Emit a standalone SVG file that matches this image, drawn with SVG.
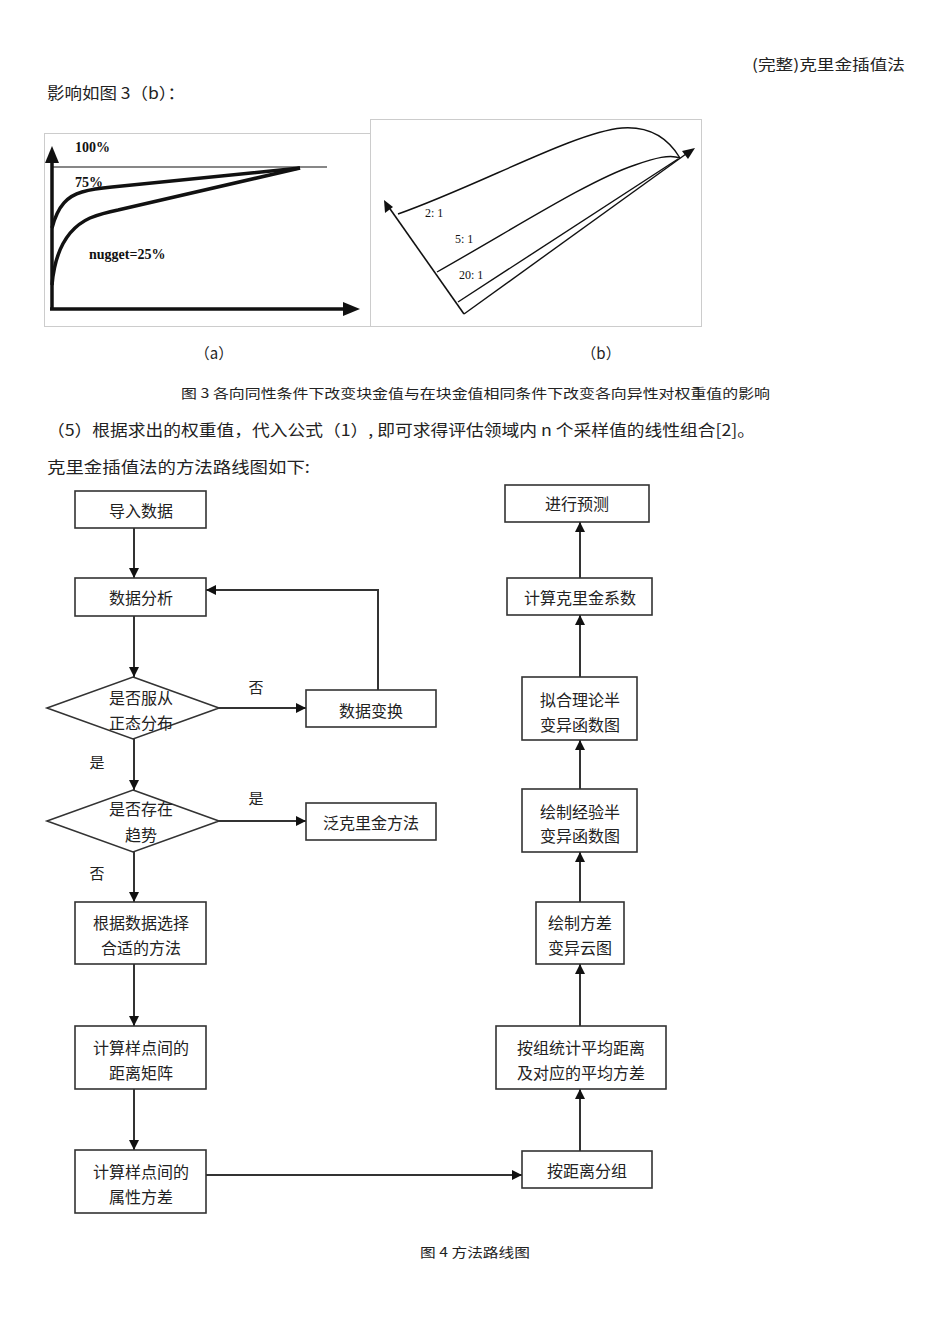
<svg xmlns="http://www.w3.org/2000/svg" width="950" height="1344" viewBox="0 0 950 1344">
<style>
  .t { font-family: "Noto Sans CJK SC", "Liberation Sans", sans-serif; fill: #222; }
  .box { fill: #fff; stroke: #333; stroke-width: 1.6; }
  .bt { font-family: "Noto Sans CJK SC", "Liberation Sans", sans-serif; font-size: 16px; fill: #222; text-anchor: middle; dominant-baseline: central; }
  .edge { fill: none; stroke: #333; stroke-width: 2; }
  .lab { font-family: "Noto Sans CJK SC", sans-serif; font-size: 15px; fill: #222; text-anchor: middle; dominant-baseline: central; }
  .fig { fill: none; stroke: #111; }
  .ser { font-family: "Liberation Serif", serif; fill: #111; }
</style>
<defs>
  <marker id="arr" viewBox="0 0 10 10" refX="10" refY="5" markerWidth="10" markerHeight="10" markerUnits="userSpaceOnUse" orient="auto">
    <path d="M0,0 L10,5 L0,10 z" fill="#111"/>
  </marker>
</defs>
<rect width="950" height="1344" fill="#fff"/>

<!-- page texts -->
<text class="t" x="905" y="70" font-size="15" text-anchor="end" textLength="153" lengthAdjust="spacingAndGlyphs">(完整)克里金插值法</text>
<text class="t" x="47" y="99" font-size="16" textLength="138" lengthAdjust="spacingAndGlyphs">影响如图 3（b）：</text>

<!-- figure (a) -->
<g id="fig-a">
  <rect x="44.5" y="133.5" width="326" height="193" fill="#fff" stroke="#ccc" stroke-width="1"/>
  <line class="fig" x1="52" y1="310" x2="52" y2="160" stroke-width="3.5"/>
  <path d="M52,146 L45,163 L59,163 z" fill="#111"/>
  <line class="fig" x1="50" y1="309" x2="346" y2="309" stroke-width="3.5"/>
  <path d="M360,309 L343,302 L343,316 z" fill="#111"/>
  <line class="fig" x1="52" y1="167" x2="327" y2="167" stroke-width="1.2"/>
  <path class="fig" stroke-width="3.5" d="M52,228 C58,205 68,196 82,192 C92,189 100,188 112,187 L300,168"/>
  <path class="fig" stroke-width="3.5" d="M52,285 C55,250 68,228 90,218 C100,214 108,212 118,210 L300,168"/>
  <text class="ser" x="75" y="152" font-size="14" font-weight="bold">100%</text>
  <text class="ser" x="75" y="187" font-size="14" font-weight="bold">75%</text>
  <text class="ser" x="89" y="259" font-size="14" font-weight="bold">nugget=25%</text>
</g>

<!-- figure (b) -->
<g id="fig-b">
  <rect x="370.5" y="119.5" width="331" height="207" fill="#fff" stroke="#ccc" stroke-width="1"/>
  <line class="fig" x1="464" y1="314" x2="388" y2="206" stroke-width="1.6"/>
  <path d="M384,200 L385,213 L393,207 z" fill="#111"/>
  <line class="fig" x1="464" y1="314" x2="686" y2="154" stroke-width="1.4"/>
  <path d="M695,148 L682,151 L688,159 z" fill="#111"/>
  <line class="fig" x1="458" y1="302" x2="678" y2="159" stroke-width="1.4"/>
  <path class="fig" stroke-width="1.4" d="M437,272 C520,225 590,180 635,165 C655,158 670,154 680,158"/>
  <path class="fig" stroke-width="1.4" d="M398,214 C480,185 575,132 622,128 C650,126 668,138 680,158"/>
  <text class="ser" x="425" y="217" font-size="12">2: 1</text>
  <text class="ser" x="455" y="243" font-size="12">5: 1</text>
  <text class="ser" x="459" y="279" font-size="12">20: 1</text>
</g>

<text class="t" x="214" y="359" font-size="15" text-anchor="middle">（a）</text>
<text class="t" x="601" y="359" font-size="15" text-anchor="middle">（b）</text>

<text class="t" x="181" y="398" font-size="13" textLength="589" lengthAdjust="spacingAndGlyphs">图 3 各向同性条件下改变块金值与在块金值相同条件下改变各向异性对权重值的影响</text>
<text class="t" x="47" y="436" font-size="16" textLength="708" lengthAdjust="spacingAndGlyphs">（5）根据求出的权重值，代入公式（1）, 即可求得评估领域内 n 个采样值的线性组合[2]。</text>
<text class="t" x="47" y="473" font-size="16" textLength="263" lengthAdjust="spacingAndGlyphs">克里金插值法的方法路线图如下:</text>

<!-- connectors -->
<g id="connectors">
  <line class="edge" x1="134" y1="528" x2="134" y2="578" marker-end="url(#arr)"/>
  <line class="edge" x1="134" y1="616" x2="134" y2="677" marker-end="url(#arr)"/>
  <line class="edge" x1="219" y1="708" x2="306" y2="708" marker-end="url(#arr)"/>
  <polyline class="edge" points="378,690 378,590 206,590" marker-end="url(#arr)"/>
  <line class="edge" x1="134" y1="739" x2="134" y2="790" marker-end="url(#arr)"/>
  <line class="edge" x1="219" y1="821" x2="306" y2="821" marker-end="url(#arr)"/>
  <line class="edge" x1="134" y1="852" x2="134" y2="902" marker-end="url(#arr)"/>
  <line class="edge" x1="134" y1="964" x2="134" y2="1026" marker-end="url(#arr)"/>
  <line class="edge" x1="134" y1="1089" x2="134" y2="1150" marker-end="url(#arr)"/>
  <line class="edge" x1="206" y1="1175" x2="522" y2="1175" marker-end="url(#arr)"/>
  <line class="edge" x1="580" y1="1151" x2="580" y2="1089" marker-end="url(#arr)"/>
  <line class="edge" x1="580" y1="1026" x2="580" y2="964" marker-end="url(#arr)"/>
  <line class="edge" x1="580" y1="902" x2="580" y2="852" marker-end="url(#arr)"/>
  <line class="edge" x1="580" y1="789" x2="580" y2="740" marker-end="url(#arr)"/>
  <line class="edge" x1="580" y1="677" x2="580" y2="615" marker-end="url(#arr)"/>
  <line class="edge" x1="580" y1="578" x2="580" y2="522" marker-end="url(#arr)"/>
  <text class="lab" x="256" y="686">否</text>
  <text class="lab" x="97" y="761">是</text>
  <text class="lab" x="256" y="797">是</text>
  <text class="lab" x="97" y="872">否</text>
</g>

<!-- nodes -->
<g id="n-import"><rect class="box" x="75" y="491" width="131" height="37"/><text class="bt" x="141" y="510">导入数据</text></g>
<g id="n-analysis"><rect class="box" x="75" y="578" width="131" height="38"/><text class="bt" x="141" y="597">数据分析</text></g>
<g id="n-normal"><polygon class="box" points="133,677 219,708 133,739 47,708"/><text class="bt" x="141" y="697">是否服从</text><text class="bt" x="141" y="722">正态分布</text></g>
<g id="n-transform"><rect class="box" x="306" y="690" width="130" height="37"/><text class="bt" x="371" y="710">数据变换</text></g>
<g id="n-trend"><polygon class="box" points="133,790 219,821 133,852 47,821"/><text class="bt" x="141" y="808">是否存在</text><text class="bt" x="141" y="834">趋势</text></g>
<g id="n-universal"><rect class="box" x="306" y="803" width="130" height="37"/><text class="bt" x="371" y="822">泛克里金方法</text></g>
<g id="n-choose"><rect class="box" x="75" y="902" width="131" height="62"/><text class="bt" x="141" y="922">根据数据选择</text><text class="bt" x="141" y="947">合适的方法</text></g>
<g id="n-distmat"><rect class="box" x="75" y="1026" width="131" height="63"/><text class="bt" x="141" y="1047">计算样点间的</text><text class="bt" x="141" y="1072">距离矩阵</text></g>
<g id="n-attrvar"><rect class="box" x="75" y="1150" width="131" height="63"/><text class="bt" x="141" y="1171">计算样点间的</text><text class="bt" x="141" y="1196">属性方差</text></g>
<g id="n-group"><rect class="box" x="522" y="1151" width="130" height="37"/><text class="bt" x="587" y="1170">按距离分组</text></g>
<g id="n-stats"><rect class="box" x="496" y="1026" width="170" height="63"/><text class="bt" x="581" y="1047">按组统计平均距离</text><text class="bt" x="581" y="1072">及对应的平均方差</text></g>
<g id="n-cloud"><rect class="box" x="536" y="902" width="88" height="62"/><text class="bt" x="580" y="922">绘制方差</text><text class="bt" x="580" y="947">变异云图</text></g>
<g id="n-empirical"><rect class="box" x="522" y="789" width="115" height="63"/><text class="bt" x="580" y="811">绘制经验半</text><text class="bt" x="580" y="835">变异函数图</text></g>
<g id="n-fit"><rect class="box" x="522" y="677" width="115" height="63"/><text class="bt" x="580" y="699">拟合理论半</text><text class="bt" x="580" y="724">变异函数图</text></g>
<g id="n-coef"><rect class="box" x="507" y="578" width="145" height="37"/><text class="bt" x="580" y="597">计算克里金系数</text></g>
<g id="n-predict"><rect class="box" x="505" y="485" width="144" height="37"/><text class="bt" x="577" y="503">进行预测</text></g>

<text class="t" x="475" y="1257" font-size="13" text-anchor="middle" textLength="110" lengthAdjust="spacingAndGlyphs">图 4 方法路线图</text>
</svg>
